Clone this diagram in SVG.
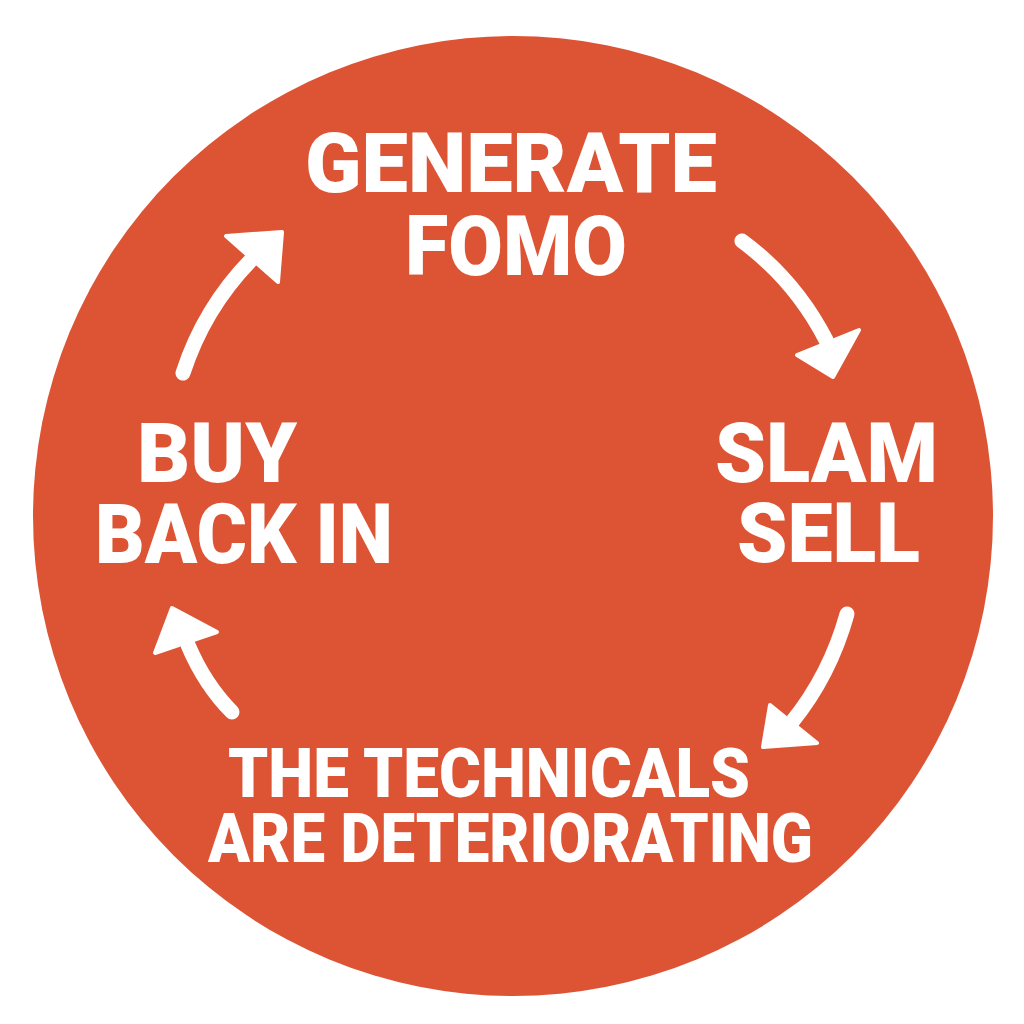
<svg xmlns="http://www.w3.org/2000/svg" width="1024" height="1024" viewBox="0 0 1024 1024">
<style>
.lbl{font-family:Roboto,"Liberation Sans",sans-serif;font-weight:900;fill:#ffffff;text-anchor:middle}
.big{font-size:84px}
.small{font-size:68px}
.shaft{fill:none;stroke:#ffffff;stroke-width:15;stroke-linecap:round}
.head{fill:#ffffff;stroke:#ffffff;stroke-width:4;stroke-linejoin:round}
</style>
<rect width="1024" height="1024" fill="#ffffff"/>
<circle id="disc" cx="513" cy="516" r="480" fill="#DD5435"/>
<g id="connectors">
<path class="shaft" d="M183,373 Q205,305 256,255"/>
<polygon class="head" points="226,236 282,232 278,282"/>
<path class="shaft" d="M742,241 Q795,280 826,340"/>
<polygon class="head" points="797,355 859,330 833,377"/>
<path class="shaft" d="M847,614 Q830,675 792,722"/>
<polygon class="head" points="770,705 817,743 763,747"/>
<path class="shaft" d="M232,712 Q205,685 188,645"/>
<polygon class="head" points="155,653 217,632 172,608"/>
</g>
<g id="node-generate"><text class="lbl big" x="511" y="192" textLength="412" lengthAdjust="spacingAndGlyphs">GENERATE</text><text class="lbl big" x="516" y="275" textLength="222" lengthAdjust="spacingAndGlyphs">FOMO</text></g>
<g id="node-slam"><text class="lbl big" x="826.5" y="482" textLength="223" lengthAdjust="spacingAndGlyphs">SLAM</text><text class="lbl big" x="828.5" y="562" textLength="183" lengthAdjust="spacingAndGlyphs">SELL</text></g>
<g id="node-buy"><text class="lbl big" x="217" y="482" textLength="160" lengthAdjust="spacingAndGlyphs">BUY</text><text class="lbl big" x="244" y="563" textLength="298" lengthAdjust="spacingAndGlyphs">BACK IN</text></g>
<g id="node-technicals"><text class="lbl small" x="489" y="797" textLength="522" lengthAdjust="spacingAndGlyphs">THE TECHNICALS</text><text class="lbl small" x="510.5" y="862" textLength="605" lengthAdjust="spacingAndGlyphs">ARE DETERIORATING</text></g>
</svg>
